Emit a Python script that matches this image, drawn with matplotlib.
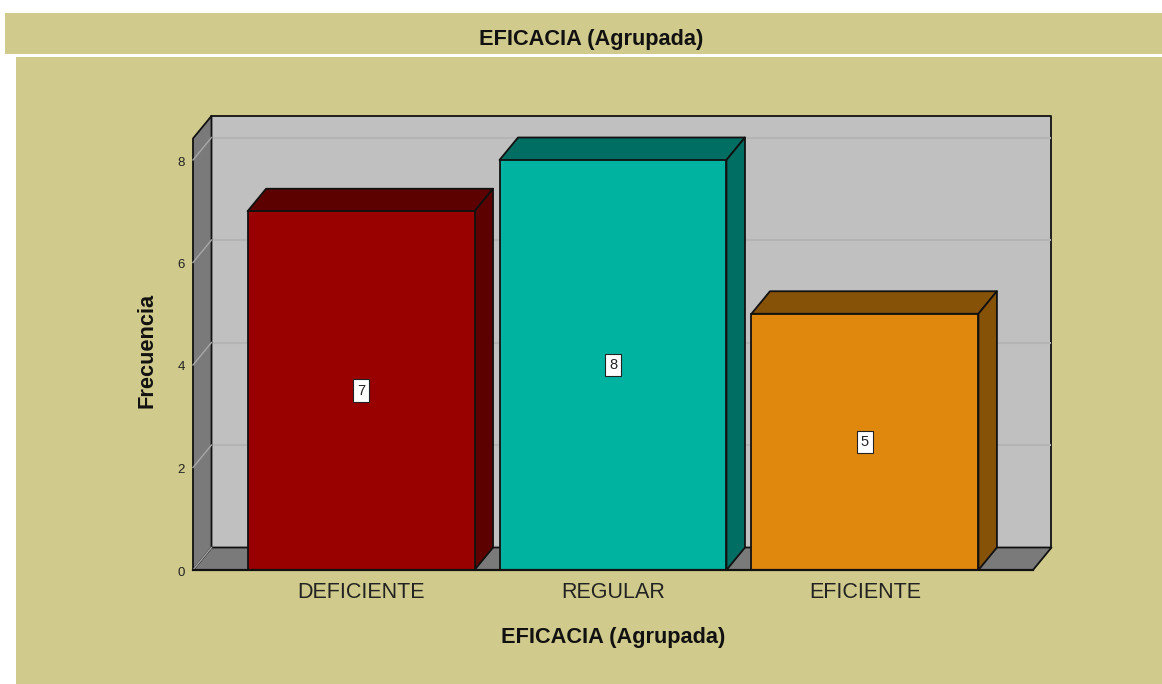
import matplotlib
matplotlib.use('Agg')
import matplotlib.pyplot as plt
from matplotlib.patches import Polygon, Rectangle
from matplotlib.transforms import ScaledTranslation

plt.rcParams['font.family'] = ['Liberation Sans', 'DejaVu Sans']

# data
categories = ['DEFICIENTE', 'REGULAR', 'EFICIENTE']
frecuencias = [7, 8, 5]
y_ticks = [0, 2, 4, 6, 8]

# colours
front_colors = ['#990000', '#00b3a0', '#e0880e']
dark_colors = ['#5c0000', '#006e62', '#865208']
BG = '#d0ca8c'
WALL = '#c0c0c0'
SIDE = '#7a7a7a'
EDGE = '#111111'

W, H = 1162, 684
fig = plt.figure(figsize=(W / 100, H / 100), dpi=100, facecolor='white')

# khaki title band and panel (behind the axes)
fig.add_artist(Rectangle((5 / W, 1 - 54 / H), (W - 5) / W, 41 / H, transform=fig.transFigure, fc=BG, ec='none', zorder=-2))
fig.add_artist(Rectangle((16 / W, 0), (W - 16) / W, 1 - 57 / H, transform=fig.transFigure, fc=BG, ec='none', zorder=-2))

# axes = front plane of the fake 3D box
ax_left, ax_right, ax_bottom, ax_top = 193, 1033, 570, 160
ax = fig.add_axes([ax_left / W, 1 - ax_bottom / H, (ax_right - ax_left) / W, (ax_bottom - ax_top) / H])
ax.patch.set_alpha(0)
ax.set_xlim(-0.667, 2.667)
ax.set_ylim(0, 8)
for s in ax.spines.values():
    s.set_visible(False)

# depth of the 3D effect in data units
dx = 18.5 / 252
dy = 22.5 / 51.25
top = 8.42
x0, x1 = ax.get_xlim()


def poly(pts, fc, ec=EDGE, lw=1.3, z=1):
    ax.add_patch(Polygon(pts, closed=True, fc=fc, ec=ec, lw=lw, zorder=z, clip_on=False, joinstyle='round'))


# back wall, floor, left wall
poly([(x0 + dx, dy), (x1 + dx, dy), (x1 + dx, top + dy), (x0 + dx, top + dy)], WALL, z=1)
poly([(x0, 0), (x1, 0), (x1 + dx, dy), (x0 + dx, dy)], SIDE, z=2)
poly([(x0, 0), (x0 + dx, dy), (x0 + dx, top + dy), (x0, top)], SIDE, z=2)

# gridlines, on back wall and running down the side wall
for t in y_ticks:
    if t == 0:
        ax.plot([x0, x0 + dx], [0, dy], color='#a8a8a8', lw=1, zorder=3, clip_on=False)
        continue
    ax.plot([x0 + dx, x1 + dx], [t + dy, t + dy], color='#b4b4b4', lw=1.5, zorder=1.5, clip_on=False,
            solid_capstyle='butt')
    ax.plot([x0, x0 + dx], [t, t + dy], color='#a8a8a8', lw=1, zorder=3, clip_on=False)

# bars
width = 227 / 252
bars = ax.bar(range(3), frecuencias, width=width, color=front_colors, edgecolor=EDGE, linewidth=1.3, zorder=6)
for i, (b, v) in enumerate(zip(bars, frecuencias)):
    l, r = b.get_x(), b.get_x() + b.get_width()
    poly([(l, v), (r, v), (r + dx, v + dy), (l + dx, v + dy)], dark_colors[i], z=5)
    poly([(r, 0), (r + dx, dy), (r + dx, v + dy), (r, v)], dark_colors[i], z=5)
    ax.text(i, v / 2, str(v), ha='center', va='center', fontsize=10.5, color='#222222', zorder=8,
            bbox=dict(boxstyle='square,pad=0.3', fc='white', ec='#222222', lw=0.8))

# front baseline
ax.plot([x0, x1], [0, 0], color=EDGE, lw=1.6, zorder=7, clip_on=False)

ax.set_xticks(range(3))
ax.set_xticklabels(categories, fontsize=15.5, color='#222222')
ax.set_yticks(y_ticks)
ax.set_yticklabels([str(t) for t in y_ticks], fontsize=9.5, color='#222222')
ax.tick_params(axis='both', length=0)
ax.tick_params(axis='x', pad=9)
ax.tick_params(axis='y', pad=6)
# y labels sit a bit lower than their tick position
for lab in ax.get_yticklabels():
    lab.set_transform(lab.get_transform() + ScaledTranslation(0, -1 / 100, fig.dpi_scale_trans))
ax.set_xlabel('EFICACIA (Agrupada)', fontsize=15.7, fontweight='bold', labelpad=17, color='#111111')
ax.set_ylabel('Frecuencia', fontsize=15.7, fontweight='bold', labelpad=14, color='#111111', y=0.535)

fig.text(591 / W, 1 - 39 / H, 'EFICACIA (Agrupada)', ha='center', va='center', fontsize=15.7,
         fontweight='bold', color='#111111')

fig.savefig('out.png', dpi=100, facecolor='white')
